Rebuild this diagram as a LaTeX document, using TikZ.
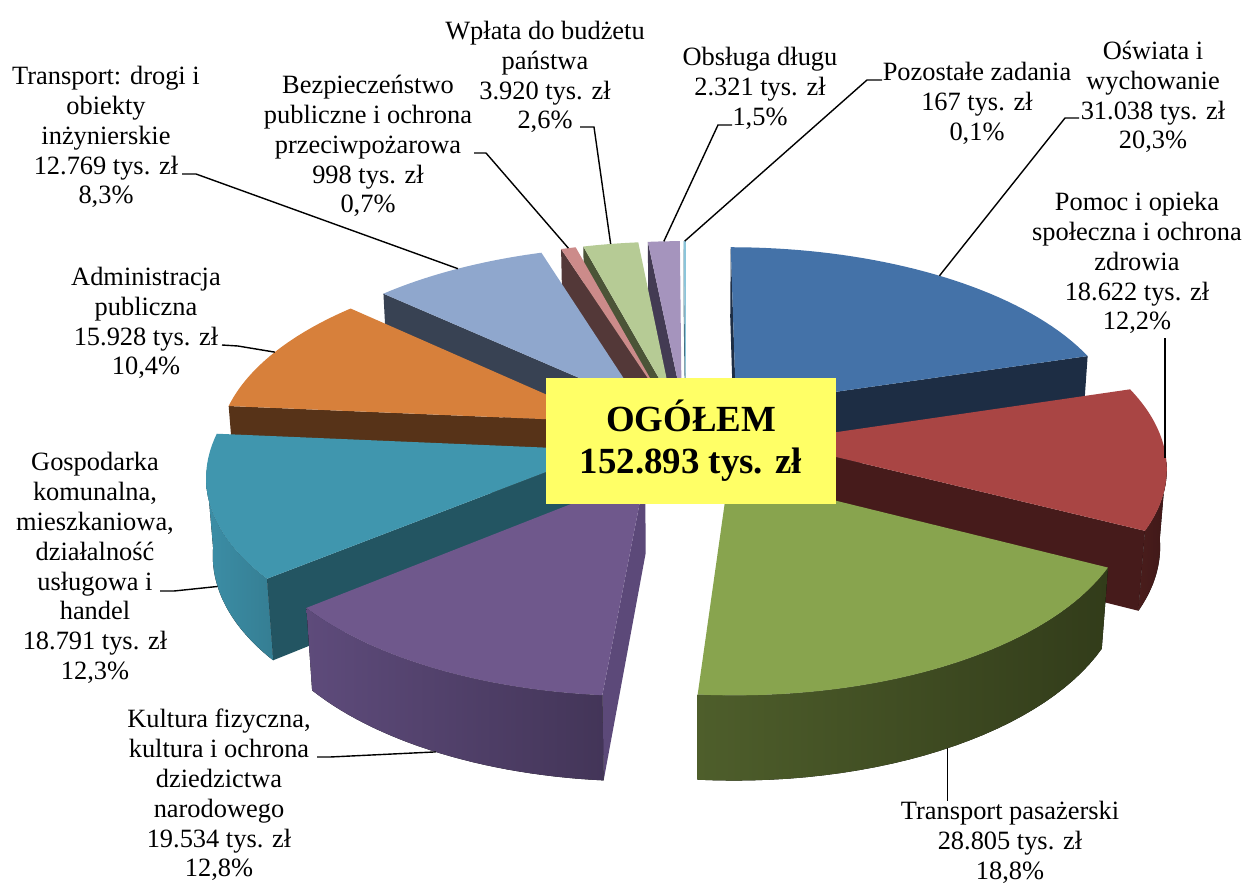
\documentclass[tikz,border=0pt]{standalone}
\usepackage{fontspec}
\setmainfont{Liberation Serif}
\definecolor{oswiata}{HTML}{4472A8}
\definecolor{bokoswiata}{HTML}{1D2D44}
\definecolor{pomoc}{HTML}{A94544}
\definecolor{bokpomoc}{HTML}{461B1B}
\definecolor{lewypomoc}{HTML}{4A1D1C}
\definecolor{prawypomoc}{HTML}{3F1818}
\definecolor{pasazer}{HTML}{88A44E}
\definecolor{bokpasazer}{HTML}{3A4620}
\definecolor{lewypasazer}{HTML}{4E5E2B}
\definecolor{prawypasazer}{HTML}{323C1A}
\definecolor{kultura}{HTML}{6F588C}
\definecolor{bokkultura}{HTML}{5C4979}
\definecolor{lewykultura}{HTML}{5E4B7B}
\definecolor{prawykultura}{HTML}{433558}
\definecolor{gospodarka}{HTML}{4096AE}
\definecolor{bokgospodarka}{HTML}{235562}
\definecolor{lewygospodarka}{HTML}{3C8EA6}
\definecolor{prawygospodarka}{HTML}{357E93}
\definecolor{admin}{HTML}{D7803B}
\definecolor{bokadmin}{HTML}{573318}
\definecolor{drogi}{HTML}{8FA7CD}
\definecolor{bokdrogi}{HTML}{384253}
\definecolor{bezpiecz}{HTML}{CC8B8A}
\definecolor{bokbezpiecz}{HTML}{533838}
\definecolor{wplata}{HTML}{B6CB95}
\definecolor{bokwplata}{HTML}{4B5437}
\definecolor{dlug}{HTML}{A594BD}
\definecolor{bokdlug}{HTML}{433B53}
\definecolor{pozostale}{HTML}{8BC5DA}
\definecolor{bokpozostale}{HTML}{467080}
\definecolor{zolty}{HTML}{FFFF66}
\tikzstyle{etykieta} = [align=center, font=\fontsize{26.5}{30}\selectfont, inner sep=0pt]
\tikzstyle{linia} = [draw=black, line width=1.4bp]
\tikzstyle{ogolem} = [fill=zolty, font=\bfseries\fontsize{37}{42}\selectfont, align=center, minimum width=290bp, minimum height=126bp]

\begin{document}
\begin{tikzpicture}[x=1bp, y=-1bp, declare function={
		wx(\sm,\sr,\st)=\sr*cos(\st)+0.22*cos(\sm);
		wy(\sm,\sr,\st)=\sr*sin(\st)+0.22*sin(\sm);
		su(\sm,\sr,\st,\sz)=686+390*wx(\sm,\sr,\st)/(1+0.12*wy(\sm,\sr,\st)-0.0628*\sz);
		sv(\sm,\sr,\st,\sz)=438-399*(0.4637*wy(\sm,\sr,\st)+0.886*\sz)/(1+0.12*wy(\sm,\sr,\st)-0.0628*\sz);
	}]
	\useasboundingbox (0,0) rectangle (1246,886);
	\foreach \naz/\poc/\kon/\dol in {pozostale/-269.64/-270/0, dlug/-264.24/-269.64/0, wplata/-254.88/-264.24/0, bezpiecz/-252.36/-254.88/0, drogi/-222.48/-252.36/0, oswiata/90/16.92/0, admin/-185.04/-222.48/0, pomoc/16.92/-27/0, gospodarka/-140.76/-185.04/1, pasazer/-27/-94.68/1, kultura/-94.68/-140.76/1}{
		\pgfmathsetmacro\srod{(\poc+\kon)/2}
		\pgfmathtruncatemacro\lewa{0.22*sin(\poc-\srod)-6.54*cos(\poc)>0}
		\pgfmathtruncatemacro\prawa{0.22*sin(\srod-\kon)+6.54*cos(\kon)>0}
		\pgfmathsetmacro\pA{min(\poc,-6)}
		\pgfmathsetmacro\pB{max(\kon,-174)}
		\pgfmathtruncatemacro\pas{\pA>\pB}
		\ifnum\lewa=1
			\fill[fill=bok\naz] ({su(\srod,0,0,0)},{sv(\srod,0,0,0)}) -- ({su(\srod,1,\poc,0)},{sv(\srod,1,\poc,0)}) -- ({su(\srod,1,\poc,-0.22)},{sv(\srod,1,\poc,-0.22)}) -- ({su(\srod,0,0,-0.22)},{sv(\srod,0,0,-0.22)}) -- cycle;
		\fi
		\ifnum\prawa=1
			\fill[fill=bok\naz] ({su(\srod,0,0,0)},{sv(\srod,0,0,0)}) -- ({su(\srod,1,\kon,0)},{sv(\srod,1,\kon,0)}) -- ({su(\srod,1,\kon,-0.22)},{sv(\srod,1,\kon,-0.22)}) -- ({su(\srod,0,0,-0.22)},{sv(\srod,0,0,-0.22)}) -- cycle;
		\fi
		\ifnum\pas=1
			\fill[left color=lewy\naz, right color=prawy\naz] plot[domain=\pA:\pB, samples=30] ({su(\srod,1,\x,0)},{sv(\srod,1,\x,0)}) -- plot[domain=\pB:\pA, samples=30] ({su(\srod,1,\x,-0.22)},{sv(\srod,1,\x,-0.22)}) -- cycle;
		\fi
		\fill[fill=\naz] ({su(\srod,0,0,0)},{sv(\srod,0,0,0)}) -- plot[domain=\poc:\kon, samples=40] ({su(\srod,1,\x,0)},{sv(\srod,1,\x,0)}) -- cycle;
		\coordinate (\naz) at ({su(\srod,1,\srod,-0.22*\dol)},{sv(\srod,1,\srod,-0.22*\dol)});
	}
	\node[ogolem] (ogolem) at (691,441) {OGÓŁEM\\152.893 tys. zł};
	\node[etykieta] (l-drogi) at (106,137) {Transport: drogi i\\obiekty\\inżynierskie\\12.769 tys. zł\\8,3\%};
	\node[etykieta] (l-bezpiecz) at (368,146) {Bezpieczeństwo\\publiczne i ochrona\\przeciwpożarowa\\998 tys. zł\\0,7\%};
	\node[etykieta] (l-wplata) at (545,77) {Wpłata do budżetu\\państwa\\3.920 tys. zł\\2,6\%};
	\node[etykieta] (l-dlug) at (760,88) {Obsługa długu\\2.321 tys. zł\\1,5\%};
	\node[etykieta] (l-pozostale) at (977,103) {Pozostałe zadania\\167 tys. zł\\0,1\%};
	\node[etykieta] (l-oswiata) at (1153,97) {Oświata i\\wychowanie\\31.038 tys. zł\\20,3\%};
	\node[etykieta] (l-pomoc) at (1137,263) {Pomoc i opieka\\społeczna i ochrona\\zdrowia\\18.622 tys. zł\\12,2\%};
	\node[etykieta] (l-pasazer) at (1010,842) {Transport pasażerski\\28.805 tys. zł\\18,8\%};
	\node[etykieta] (l-kultura) at (219,795) {Kultura fizyczna,\\kultura i ochrona\\dziedzictwa\\narodowego\\19.534 tys. zł\\12,8\%};
	\node[etykieta] (l-gospodarka) at (95,568) {Gospodarka\\komunalna,\\mieszkaniowa,\\działalność\\usługowa i\\handel\\18.791 tys. zł\\12,3\%};
	\node[etykieta] (l-admin) at (146,323) {Administracja\\publiczna\\15.928 tys. zł\\10,4\%};
	\coordinate (t-drogi) at (182,174);
	\coordinate (t-bezpiecz) at (474,153);
	\coordinate (t-wplata) at (580,127);
	\coordinate (t-dlug) at (732,125);
	\coordinate (t-pozostale) at (882,80);
	\coordinate (t-oswiata) at (1079,118);
	\coordinate (t-pomoc) at (1165,338);
	\coordinate (t-admin) at (222,345);
	\coordinate (t-gospodarka) at (160,591);
	\coordinate (t-kultura) at (317,757);
	\draw[linia] (t-drogi) -- ++(14,0) -- (drogi);
	\draw[linia] (t-bezpiecz) -- ++(12,0) -- (bezpiecz);
	\draw[linia] (t-wplata) -- ++(14,0) -- (wplata);
	\draw[linia] (t-dlug) -- ++(-14,0) -- (dlug);
	\draw[linia] (t-pozostale) -- ++(-15,0) -- (pozostale);
	\draw[linia] (t-oswiata) -- ++(-14,0) -- (oswiata);
	\draw[linia] (t-pomoc) -- (t-pomoc |- pomoc);
	\draw[linia] (t-admin) -- ++(16,1) -- (admin);
	\draw[linia] (t-gospodarka) -- ++(14,0) -- (gospodarka);
	\draw[linia] (t-kultura) -- ++(13,0) -- (kultura);
	\draw[linia] (pasazer) -- (pasazer |- l-pasazer.north);
\end{tikzpicture}
\end{document}
